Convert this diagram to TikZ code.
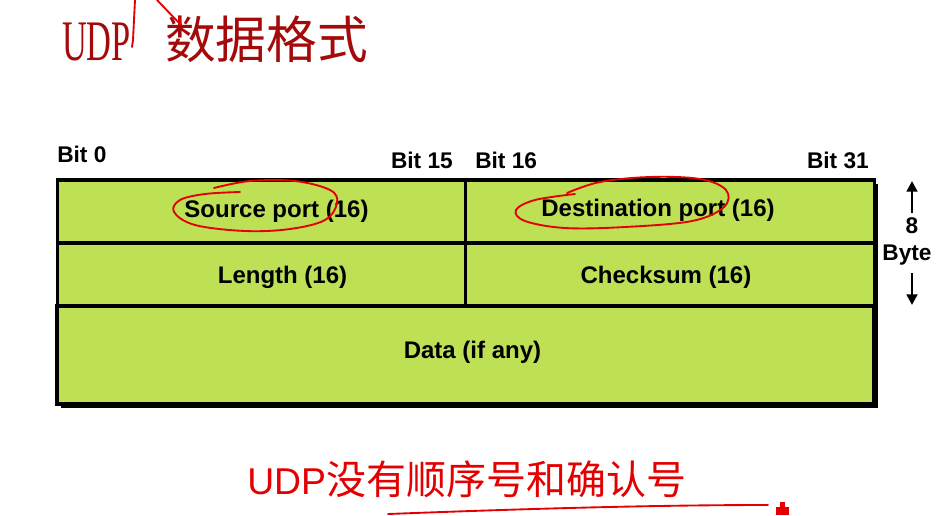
\documentclass[tikz,border=0pt]{standalone}
\usepackage{fontspec}
\setmainfont{Liberation Sans}
\newfontfamily\cjk{Noto Sans CJK SC}
\newfontfamily\titleserif{Liberation Serif}
\usepackage{xcolor}
\usepackage{tikz}
\usetikzlibrary{positioning,arrows.meta,calc}

\definecolor{udpgreen}{RGB}{190,224,84}
\definecolor{titlered}{RGB}{165,10,10}
\definecolor{inkred}{RGB}{228,0,0}

\begin{document}
\begin{tikzpicture}[
  x=0.75pt, y=-0.75pt,
  every node/.style={font=\fontsize{17}{19}\selectfont\bfseries, inner sep=0pt},
  every label/.style={font=\fontsize{18}{20}\selectfont\bfseries, inner sep=0pt},
  field/.style ={draw=black, line width=2.3pt, fill=udpgreen,
                 minimum height=47.25pt, align=center},
  half/.style  ={field, minimum width=306.5pt},
  full/.style  ={field, minimum width=612.75pt, minimum height=73.5pt},
  bitlbl/.style={anchor=base},
  arr/.style   ={-{Triangle[length=8pt,width=8pt]}, line width=2pt},
  scribble/.style={draw=inkred, line width=1.4pt, line cap=round, line join=round}
]
\useasboundingbox (0,0) rectangle (936,515);

%% ---- Title ---------------------------------------------------------
\node[anchor=base west, font=\fontsize{43}{45}\selectfont\titleserif,
      text=titlered, xscale=0.6] (ttlA) at (62,60) {UDP};
\node[anchor=base west, font=\fontsize{38}{40}\selectfont\cjk,
      text=titlered] (ttlB) at (165,58) {数据格式};

%% ---- Shadow + header fields ---------------------------------------
\fill[black] (61,184) rectangle (878,408);
\node[half, label={[shift={(15,0)}]center:Source port (16)}]
      (src)  at (261.5,211.5) {};
\node[half, label={[shift={(-12,-1)}]center:Destination port (16)}]
      (dst)  at (670,211.5)   {};
\node[half, label={[shift={(21,3)}]center:Length (16)}]
      (len)  at (261.5,274.5) {};
\node[half, label={[shift={(-4,3)}]center:Checksum (16)}]
      (chk)  at (670,274.5)   {};
\node[full, label={[shift={(7,-3)}]center:Data (if any)}]
      (data) at (465.5,355)   {};

%% ---- Bit positions -------------------------------------------------
\node[bitlbl, anchor=base west] (b0)  at (57,162)  {Bit 0};
\node[bitlbl, anchor=base east] (b15) at (453,168) {Bit 15};
\node[bitlbl, anchor=base west] (b16) at (475,168) {Bit 16};
\node[bitlbl, anchor=base east] (b31) at (869,168) {Bit 31};

%% ---- Header size ---------------------------------------------------
\node (eight) at (912,226) {8};
\node (byte)  at (907,255) {Byte};
\coordinate (upTip)   at (912,181);
\coordinate (downTip) at (912,305);
\draw[arr] ($(eight.north)+(0,-5)$) -- (upTip);
\draw[arr] ($(byte.south)+(5,8)$) -- (downTip);

%% ---- Note ----------------------------------------------------------
\node[anchor=base west, font=\fontsize{28}{30}\selectfont, text=inkred]
      (noteA) at (247,494) {UDP};
\node[anchor=base west, font=\fontsize{30}{32}\selectfont\cjk, text=inkred]
      (noteB) at (noteA.base east) {没有顺序号和确认号};

%% ---- Hand marks ----------------------------------------------------
\draw[scribble] (135,0) -- (133,40) -- (132,47);
\draw[scribble] (157,0) -- (181,25) -- (179,17);
\draw[scribble] plot[smooth, tension=0.6] coordinates {
  (214,188) (250,181) (295,181) (330,190) (337,203) (325,220)
  (290,229) (245,231) (195,225) (174,212) (180,200) (205,194) (240,192)};
\draw[scribble] plot[smooth, tension=0.6] coordinates {
  (567,193) (600,182) (650,177) (700,179) (726,190) (724,207)
  (692,221) (625,227) (565,228) (525,221) (516,210) (535,200) (575,194)};
\draw[scribble] (388,514) .. controls (520,509) and (650,505) .. (768,505);
\fill[inkred] (776,507) rectangle (789,515);
\fill[inkred] (780,502) rectangle (785,507);

\end{tikzpicture}
\end{document}
